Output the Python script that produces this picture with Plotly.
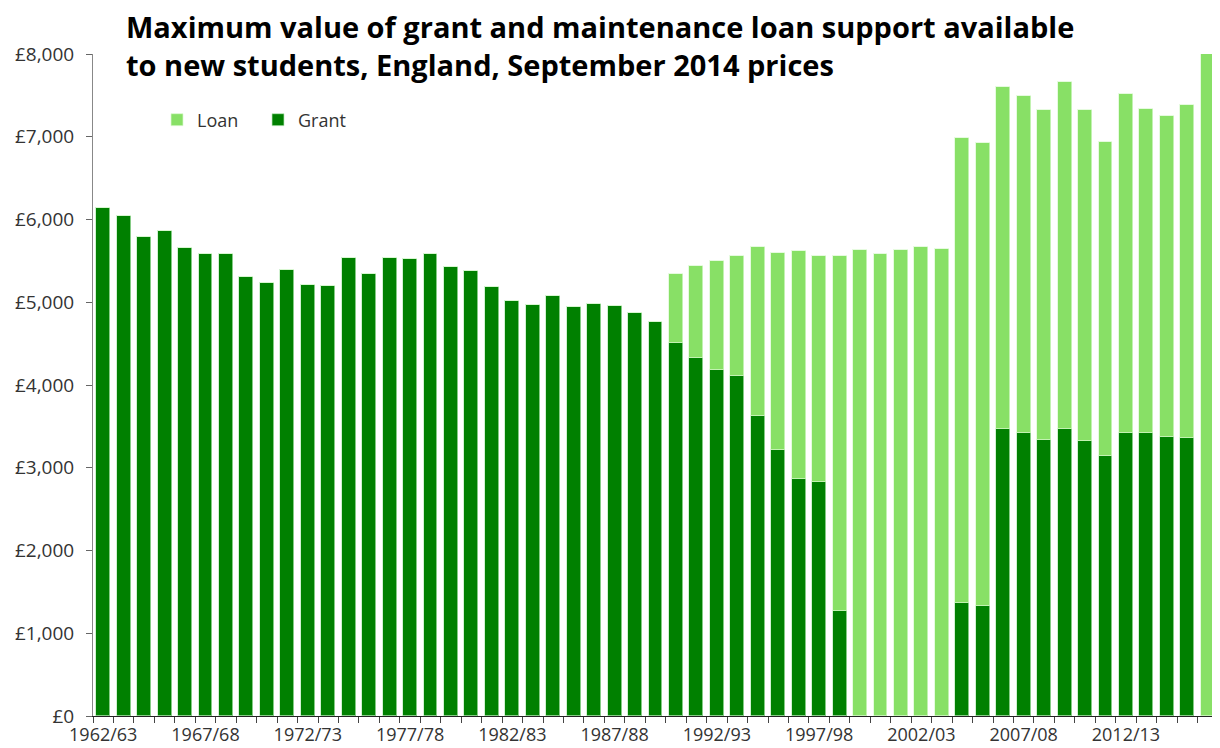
import plotly.graph_objects as go

years = [f"{y}/{str(y + 1)[-2:]}" for y in range(1962, 2017)]

grant = [6145, 6040, 5786, 5863, 5661, 5580, 5580, 5311, 5234, 5392,
         5214, 5202, 5540, 5347, 5537, 5525, 5585, 5423, 5383, 5181,
         5017, 4968, 5077, 4940, 4981, 4960, 4872, 4763, 4504, 4331,
         4183, 4105, 3622, 3216, 2862, 2833, 1266, 0, 0, 0,
         0, 0, 1366, 1330, 3470, 3418, 3337, 3470, 3321, 3140,
         3422, 3422, 3377, 3361, 0]

total = [6145, 6040, 5786, 5863, 5661, 5580, 5580, 5311, 5234, 5392,
         5214, 5202, 5540, 5347, 5537, 5525, 5585, 5423, 5383, 5181,
         5017, 4968, 5077, 4940, 4981, 4960, 4872, 4763, 5347, 5444,
         5504, 5565, 5665, 5597, 5621, 5565, 5556, 5637, 5589, 5629,
         5665, 5645, 6979, 6926, 7600, 7487, 7318, 7665, 7326, 6931,
         7515, 7338, 7249, 7378, 8000]

loan = [t - g for t, g in zip(total, grant)]

label_idx = list(range(0, 55, 5))
tick_text = [years[i] for i in label_idx]
y_ticks = [0, 1000, 2000, 3000, 4000, 5000, 6000, 7000, 8000]
y_tick_text = ["£" + f"{v:,}" for v in y_ticks]

title_text = ("Maximum value of grant and maintenance loan support available<br>"
              "to new students, England, September 2014 prices")

GRANT_C = "#008000"
LOAN_C = "#88E066"
x = list(range(len(years)))

# page has an 8px body margin; compensate so the plot sits where the reference has it
OFF = 8
W, H = 1220 - OFF, 748 - OFF
L, R, T, B = 93 - OFF, 2, 54 - OFF, 32
PW = W - L - R
PH = H - T - B


def px_x(px):  # page x -> paper x
    return (px - OFF - L) / PW


def px_y(py):  # page y -> paper y
    return (H - B - (py - OFF)) / PH


fig = go.Figure()
fig.add_trace(go.Bar(x=x, y=grant, name="Grant",
                     marker=dict(color=GRANT_C, line=dict(color="rgba(190,235,190,0.7)", width=1)),
                     width=0.68, customdata=years,
                     hovertemplate="%{customdata}: £%{y:,}<extra>Grant</extra>"))
fig.add_trace(go.Bar(x=x, y=loan, name="Loan",
                     marker=dict(color=LOAN_C, line=dict(color="rgba(220,250,210,0.7)", width=1)),
                     width=0.68, customdata=years,
                     hovertemplate="%{customdata}: £%{y:,}<extra>Loan</extra>"))

fig.update_layout(
    barmode="stack",
    width=W, height=H,
    margin=dict(l=L, r=R, t=T, b=B, autoexpand=False),
    paper_bgcolor="white", plot_bgcolor="white",
    font=dict(family="Open Sans, Noto Sans, sans-serif", size=18, color="#333333"),
    legend=dict(orientation="h", traceorder="reversed", x=px_x(157), xanchor="left",
                y=px_y(120), yanchor="middle", font=dict(size=18, color="#333333"),
                bgcolor="rgba(0,0,0,0)", entrywidth=56),
    bargap=0,
    annotations=[dict(
        text=title_text, showarrow=False, align="left",
        xref="paper", yref="paper", x=px_x(124), xanchor="left",
        y=px_y(5), yanchor="top",
        font=dict(family="Open Sans, Noto Sans, sans-serif", size=29, color="black", weight="bold"),
    )],
)

fig.update_xaxes(
    range=[-0.5, 54.5], automargin=False,
    tickmode="array", tickvals=label_idx, ticktext=tick_text,
    ticks="", showgrid=False, zeroline=False,
    showline=True, linecolor="#222222", linewidth=1,
    ticklabelstandoff=2,
    tickfont=dict(size=18, color="#333333"),
    minor=dict(tickmode="linear", tick0=-0.5, dtick=1, ticks="outside", ticklen=6,
               tickcolor="#444444", showgrid=False),
)
fig.update_yaxes(
    range=[0, 8000], automargin=False,
    tickmode="array", tickvals=y_ticks, ticktext=y_tick_text,
    ticks="outside", ticklen=6, tickcolor="#666666",
    showgrid=False, zeroline=False,
    showline=True, linecolor="#888888", linewidth=1,
    ticklabelstandoff=8,
    tickfont=dict(size=19, color="#333333"),
)

fig.write_html("out.html")
